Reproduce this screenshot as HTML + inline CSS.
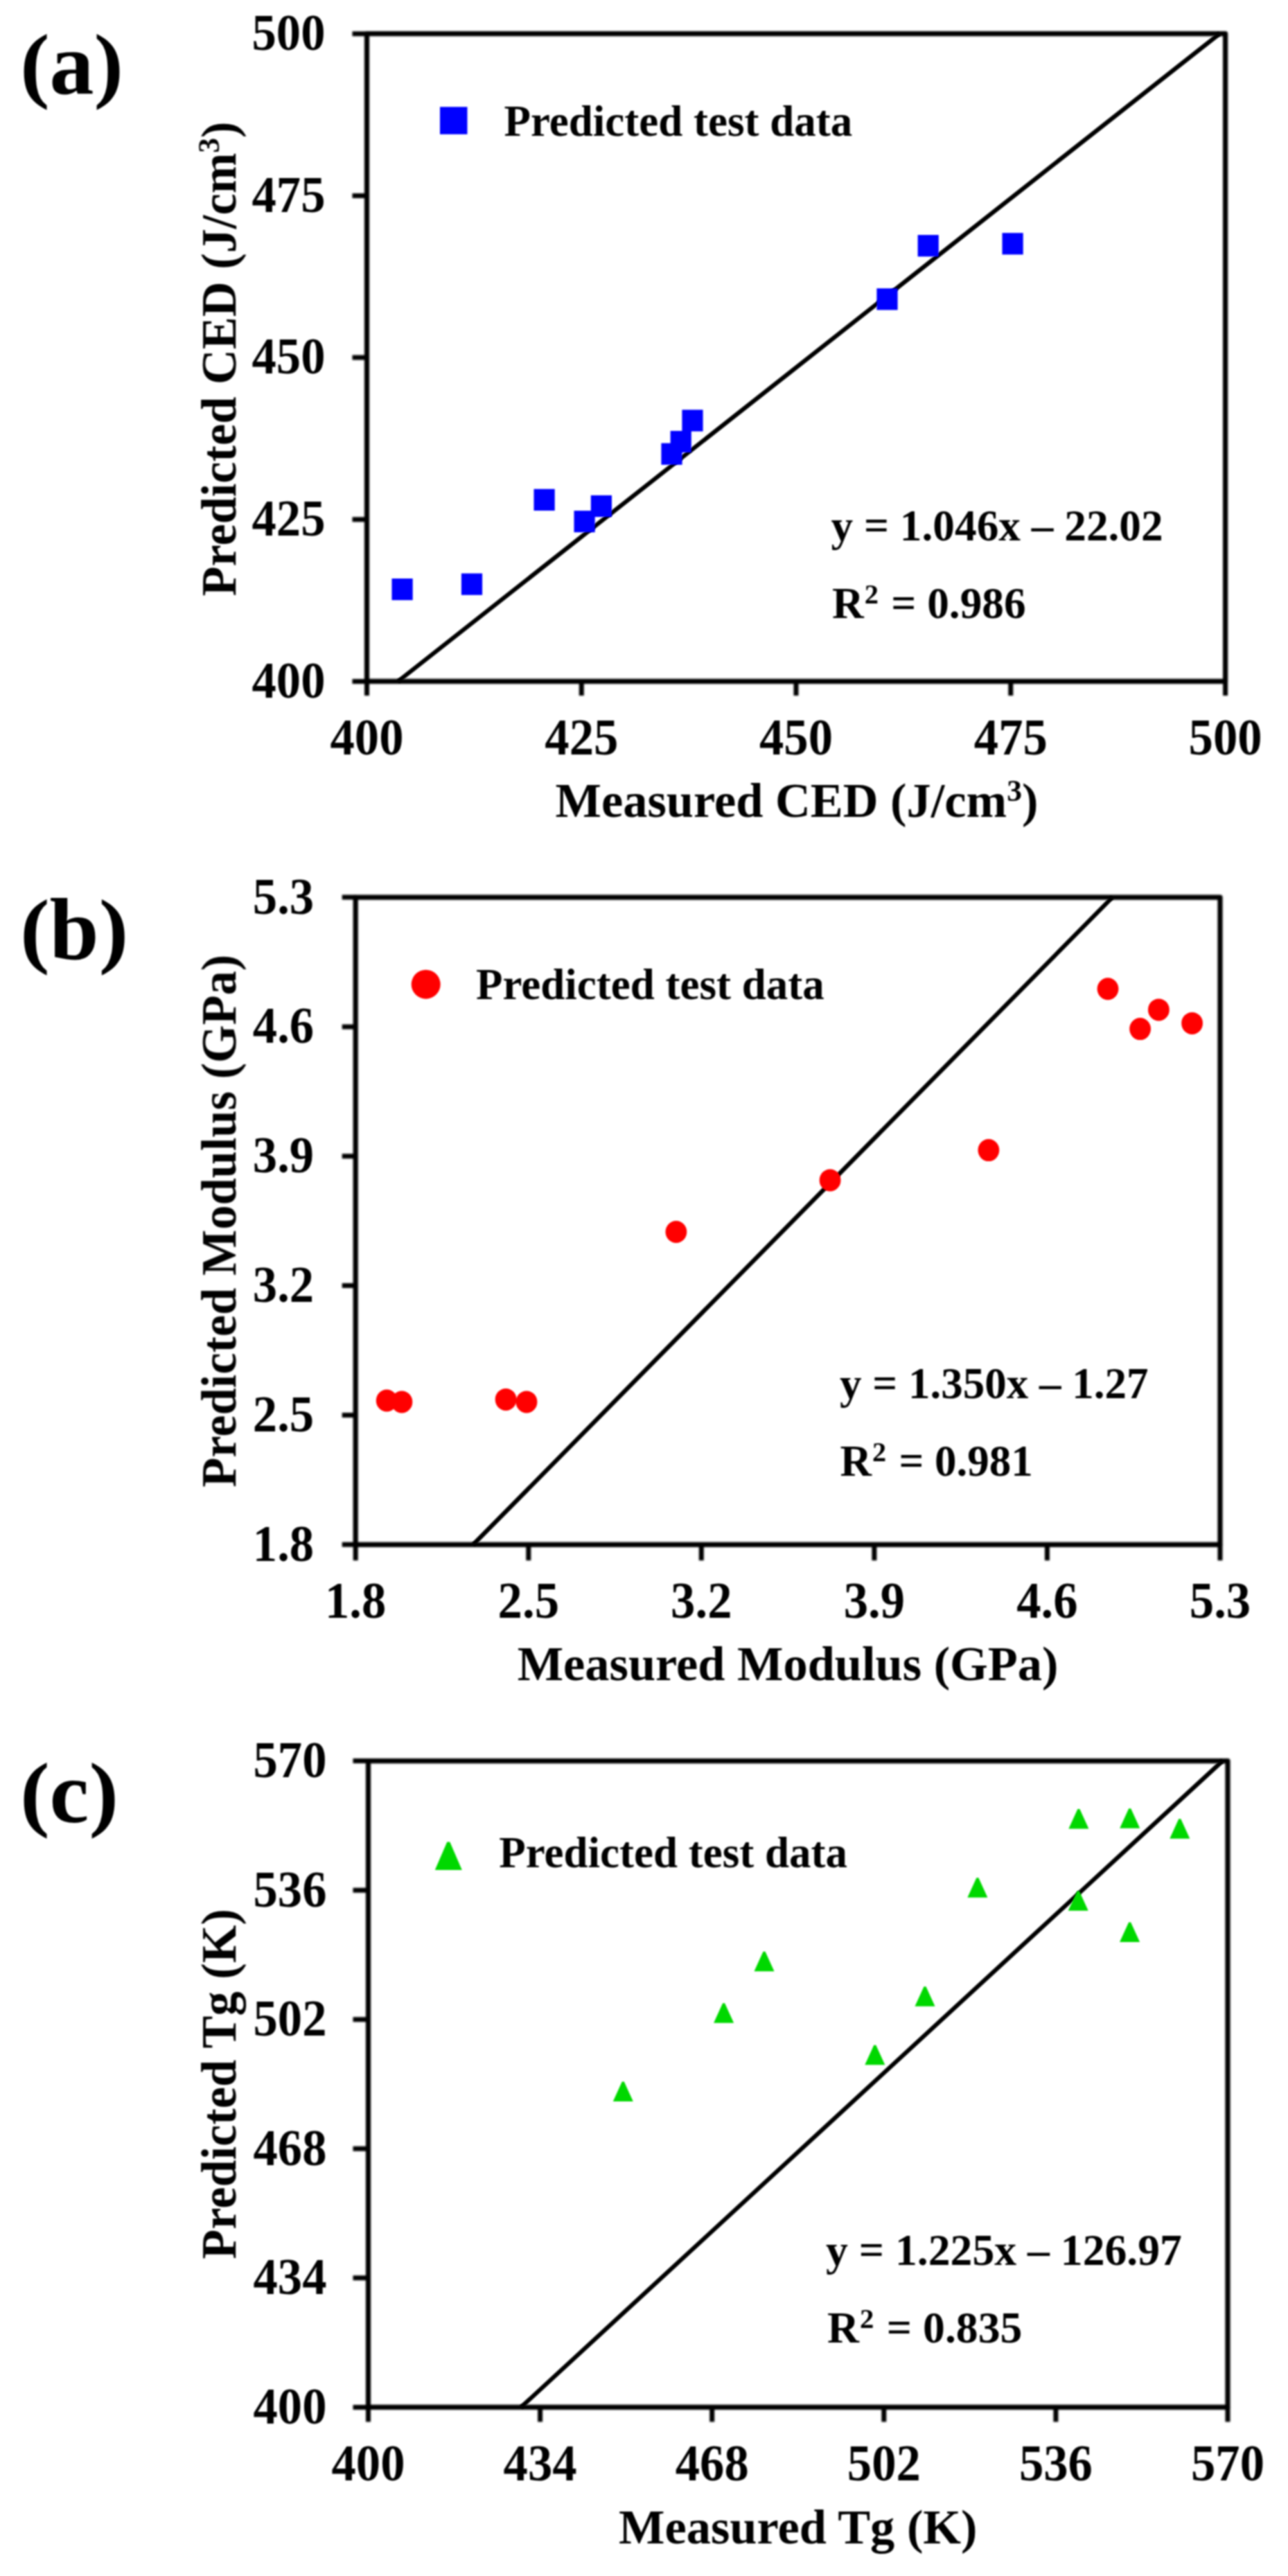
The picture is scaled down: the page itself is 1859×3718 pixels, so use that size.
<!DOCTYPE html>
<html lang="en">
<head>
<meta charset="utf-8">
<title>Predicted vs measured: CED, Modulus, Tg</title>
<style>
html,body{margin:0;padding:0;background:#fff;}
body{width:1859px;height:3718px;overflow:hidden;}
svg{display:block;}
</style>
</head>
<body>
<svg width="1859" height="3718" viewBox="0 0 1859 3718" font-family='"Liberation Serif", serif' font-weight="bold" fill="#000">
<defs><filter id="soft" x="0" y="0" width="100%" height="100%" filterUnits="userSpaceOnUse" color-interpolation-filters="sRGB"><feGaussianBlur stdDeviation="1.3"/></filter><filter id="soft2" x="0" y="0" width="100%" height="100%" filterUnits="userSpaceOnUse" color-interpolation-filters="sRGB"><feGaussianBlur stdDeviation="1.6"/></filter></defs>
<rect width="1859" height="3718" fill="#fff"/>
<g id="fit-lines" filter="url(#soft)">
<line x1="574.5" y1="983.4" x2="1760.2" y2="48.7" stroke="#000" stroke-width="6.2"/>
<line x1="683" y1="2229.3" x2="1605.5" y2="1295.1" stroke="#000" stroke-width="6.2"/>
<line x1="752" y1="3474.4" x2="1764.5" y2="2541.6" stroke="#000" stroke-width="6.2"/>
</g>
<g id="axes" filter="url(#soft2)">
<rect x="529.5" y="48.7" width="1239.1" height="934.7" fill="none" stroke="#000" stroke-width="7.2" stroke-linejoin="round"/>
<path d="M529.5 983.4v20.5M529.5 983.4h-21M839.3 983.4v20.5M529.5 749.7h-21M1149 983.4v20.5M529.5 516h-21M1458.8 983.4v20.5M529.5 282.4h-21M1768.6 983.4v20.5M529.5 48.7h-21" stroke="#000" stroke-width="7.0" fill="none" stroke-linecap="butt"/>
<rect x="513.2" y="1295.1" width="1247.8" height="934.2" fill="none" stroke="#000" stroke-width="7.2" stroke-linejoin="round"/>
<path d="M513.2 2229.3v23M513.2 2229.3h-19.5M762.8 2229.3v23M513.2 2042.5h-19.5M1012.3 2229.3v23M513.2 1855.6h-19.5M1261.9 2229.3v23M513.2 1668.8h-19.5M1511.4 2229.3v23M513.2 1481.9h-19.5M1761 2229.3v23M513.2 1295.1h-19.5" stroke="#000" stroke-width="7.0" fill="none" stroke-linecap="butt"/>
<rect x="531.5" y="2541.6" width="1240.5" height="932.8" fill="none" stroke="#000" stroke-width="7.2" stroke-linejoin="round"/>
<path d="M531.5 3474.4v21M531.5 3474.4h-22M779.6 3474.4v21M531.5 3287.8h-22M1027.7 3474.4v21M531.5 3101.3h-22M1275.8 3474.4v21M531.5 2914.7h-22M1523.9 3474.4v21M531.5 2728.2h-22M1772 3474.4v21M531.5 2541.6h-22" stroke="#000" stroke-width="7.0" fill="none" stroke-linecap="butt"/>
</g>
<g id="content" filter="url(#soft)">
<g id="panel-a">
<g font-size="70" text-anchor="middle">
<text transform="translate(529.5 1088.9) scale(1.01 1.045)">400</text>
<text transform="translate(839.3 1088.9) scale(1.01 1.045)">425</text>
<text transform="translate(1149 1088.9) scale(1.01 1.045)">450</text>
<text transform="translate(1458.8 1088.9) scale(1.01 1.045)">475</text>
<text transform="translate(1768.6 1088.9) scale(1.01 1.045)">500</text>
</g>
<g font-size="70" text-anchor="end">
<text transform="translate(469.5 1006.9) scale(1.01 1.045)">400</text>
<text transform="translate(469.5 773.2) scale(1.01 1.045)">425</text>
<text transform="translate(469.5 539.5) scale(1.01 1.045)">450</text>
<text transform="translate(469.5 305.9) scale(1.01 1.045)">475</text>
<text transform="translate(469.5 72.2) scale(1.01 1.045)">500</text>
</g>
<text x="1150" y="1179.4" font-size="70.4" text-anchor="middle">Measured CED (J/cm<tspan font-size="43.6" dy="-23.2">3</tspan><tspan dy="23.2">)</tspan></text>
<text transform="translate(340.4 518) rotate(-90) scale(1 1.035)" font-size="70.4" text-anchor="middle">Predicted CED (J/cm<tspan font-size="43.6" dy="-23.2">3</tspan><tspan dy="23.2">)</tspan></text>
<g font-size="128">
<text transform="translate(29 133.3) scale(1 0.9495)">(</text>
<text x="71.6" y="135">a</text>
<text transform="translate(135.6 133.3) scale(1 0.9495)">)</text>
</g>
<text x="727.5" y="196" font-size="63">Predicted test data</text>
<rect x="635" y="154.3" width="39.5" height="39.5" fill="#0000ff"/>
<text x="1199.5" y="780.1" font-size="63.3">y = 1.046x – 22.02</text>
<text x="1201" y="891.9" font-size="63.3">R<tspan font-size="40.5" dx="1" dy="-20.9">2</tspan><tspan dx="2.5" dy="20.9"> = 0.986</tspan></text>
<g fill="#0000ff"><rect x="565.5" y="835" width="30.2" height="31.2"/><rect x="665.9" y="827.6" width="30.2" height="31.2"/><rect x="770.5" y="705.8" width="30.2" height="31.2"/><rect x="828.5" y="737.1" width="30.2" height="31.2"/><rect x="852.8" y="714.9" width="30.2" height="31.2"/><rect x="954.4" y="639.6" width="30.2" height="31.2"/><rect x="967.6" y="621.9" width="30.2" height="31.2"/><rect x="984.4" y="591.4" width="30.2" height="31.2"/><rect x="1265.4" y="416.2" width="30.2" height="31.2"/><rect x="1324.6" y="339.1" width="30.2" height="31.2"/><rect x="1446.5" y="336.2" width="30.2" height="31.2"/></g>
</g>
<g id="panel-b">
<g font-size="70" text-anchor="middle">
<text transform="translate(513.2 2334.8) scale(1.01 1.045)">1.8</text>
<text transform="translate(762.8 2334.8) scale(1.01 1.045)">2.5</text>
<text transform="translate(1012.3 2334.8) scale(1.01 1.045)">3.2</text>
<text transform="translate(1261.9 2334.8) scale(1.01 1.045)">3.9</text>
<text transform="translate(1511.4 2334.8) scale(1.01 1.045)">4.6</text>
<text transform="translate(1761 2334.8) scale(1.01 1.045)">5.3</text>
</g>
<g font-size="70" text-anchor="end">
<text transform="translate(453.2 2252.8) scale(1.01 1.045)">1.8</text>
<text transform="translate(453.2 2066) scale(1.01 1.045)">2.5</text>
<text transform="translate(453.2 1879.1) scale(1.01 1.045)">3.2</text>
<text transform="translate(453.2 1692.3) scale(1.01 1.045)">3.9</text>
<text transform="translate(453.2 1505.4) scale(1.01 1.045)">4.6</text>
<text transform="translate(453.2 1318.6) scale(1.01 1.045)">5.3</text>
</g>
<text x="1137.1" y="2425.1" font-size="70.4" text-anchor="middle">Measured Modulus (GPa)</text>
<text transform="translate(340.4 1762.2) rotate(-90) scale(1 1.035)" font-size="70.4" text-anchor="middle">Predicted Modulus (GPa)</text>
<g font-size="128">
<text transform="translate(29 1382.3) scale(1 0.9495)">(</text>
<text x="71.6" y="1384">b</text>
<text transform="translate(142.8 1382.3) scale(1 0.9495)">)</text>
</g>
<text x="687" y="1442" font-size="63">Predicted test data</text>
<circle cx="614.7" cy="1420.7" r="21" fill="#ff0000"/>
<text x="1212" y="2018.1" font-size="63">y = 1.350x – 1.27</text>
<text x="1212.5" y="2129.8" font-size="63">R<tspan font-size="40.3" dx="1" dy="-20.8">2</tspan><tspan dx="2.5" dy="20.8"> = 0.981</tspan></text>
<g fill="#ff0000"><ellipse cx="558.2" cy="2021.5" rx="15.4" ry="16"/><ellipse cx="579.9" cy="2023.4" rx="15.4" ry="16"/><ellipse cx="730.1" cy="2019.9" rx="15.4" ry="16"/><ellipse cx="760" cy="2023.4" rx="15.4" ry="16"/><ellipse cx="975.9" cy="1778" rx="15.4" ry="16"/><ellipse cx="1198.1" cy="1703.4" rx="15.4" ry="16"/><ellipse cx="1426.9" cy="1660.1" rx="15.4" ry="16"/><ellipse cx="1599" cy="1427.3" rx="15.4" ry="16"/><ellipse cx="1645.6" cy="1485.1" rx="15.4" ry="16"/><ellipse cx="1672.4" cy="1457.4" rx="15.4" ry="16"/><ellipse cx="1720.6" cy="1476.9" rx="15.4" ry="16"/></g>
</g>
<g id="panel-c">
<g font-size="70" text-anchor="middle">
<text transform="translate(531.5 3579.9) scale(1.01 1.045)">400</text>
<text transform="translate(779.6 3579.9) scale(1.01 1.045)">434</text>
<text transform="translate(1027.7 3579.9) scale(1.01 1.045)">468</text>
<text transform="translate(1275.8 3579.9) scale(1.01 1.045)">502</text>
<text transform="translate(1523.9 3579.9) scale(1.01 1.045)">536</text>
<text transform="translate(1772 3579.9) scale(1.01 1.045)">570</text>
</g>
<g font-size="70" text-anchor="end">
<text transform="translate(471.5 3497.9) scale(1.01 1.045)">400</text>
<text transform="translate(471.5 3311.3) scale(1.01 1.045)">434</text>
<text transform="translate(471.5 3124.8) scale(1.01 1.045)">468</text>
<text transform="translate(471.5 2938.2) scale(1.01 1.045)">502</text>
<text transform="translate(471.5 2751.7) scale(1.01 1.045)">536</text>
<text transform="translate(471.5 2565.1) scale(1.01 1.045)">570</text>
</g>
<text x="1151.8" y="3670.7" font-size="70.4" text-anchor="middle">Measured Tg (K)</text>
<text transform="translate(340.4 3008) rotate(-90) scale(1 1.035)" font-size="70.4" text-anchor="middle">Predicted Tg (K)</text>
<g font-size="128">
<text transform="translate(29 2628.3) scale(1 0.9495)">(</text>
<text x="71.6" y="2630">c</text>
<text transform="translate(128.5 2628.3) scale(1 0.9495)">)</text>
</g>
<text x="720.3" y="2695" font-size="63">Predicted test data</text>
<path d="M627.8 2699H666.8L649.3 2658.5H645.3z" fill="#00d800"/>
<text x="1192" y="3269" font-size="63.7">y = 1.225x – 126.97</text>
<text x="1194" y="3381.2" font-size="63.7">R<tspan font-size="40.8" dx="1" dy="-21.0">2</tspan><tspan dx="2.5" dy="21.0"> = 0.835</tspan></text>
<g fill="#00d800"><path d="M884.8 3032.9h29l-13.0 -28.5h-3z"/><path d="M1030.1 2919.8h29l-13.0 -28.5h-3z"/><path d="M1088.5 2845.3h29l-13.0 -28.5h-3z"/><path d="M1248.3 2980.3h29l-13.0 -28.5h-3z"/><path d="M1320.5 2895.7h29l-13.0 -28.5h-3z"/><path d="M1396.4 2738.8h29l-13.0 -28.5h-3z"/><path d="M1542.4 2639.5h29l-13.0 -28.5h-3z"/><path d="M1541.7 2757.7h29l-13.0 -28.5h-3z"/><path d="M1616.2 2638.7h29l-13.0 -28.5h-3z"/><path d="M1616.1 2803h29l-13.0 -28.5h-3z"/><path d="M1688.3 2653.7h29l-13.0 -28.5h-3z"/></g>
</g>
</g>
</svg>
</body>
</html>
